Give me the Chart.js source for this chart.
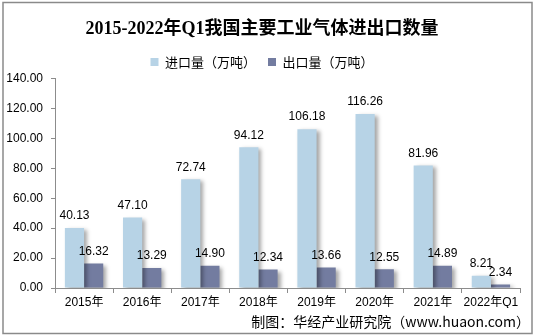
<!DOCTYPE html>
<html>
<head>
<meta charset="utf-8">
<script src="https://cdn.jsdelivr.net/npm/chart.js@4.4.1/dist/chart.umd.min.js"></script>
<style>
  html, body { margin: 0; padding: 0; background: #fff; }
  #wrap { width: 535px; height: 336px; position: relative; }
</style>
</head>
<body>
<div id="wrap"><canvas id="chart"></canvas></div>
<script>
const categories = ["2015年", "2016年", "2017年", "2018年", "2019年", "2020年", "2021年", "2022年Q1"];
const importValues = [40.13, 47.10, 72.74, 94.12, 106.18, 116.26, 81.96, 8.21];
const exportValues = [16.32, 13.29, 14.90, 12.34, 13.66, 12.55, 14.89, 2.34];
const seriesNames = ["进口量（万吨）", "出口量（万吨）"];
const yMax = 140;
const yStep = 20;

const FONT = "'Liberation Sans', Arial, 'Noto Sans CJK SC', sans-serif";
const AXIS_COLOR = "#8c8c8c";

// bar shadow like the office chart
const shadowPlugin = {
    id: "shadow",
    beforeDatasetsDraw(chart) {
        const ctx = chart.ctx;
        ctx.save();
        ctx.shadowColor = "rgba(0,0,0,0.35)";
        ctx.shadowBlur = 4;
        ctx.shadowOffsetX = 3;
        ctx.shadowOffsetY = 2;
    },
    afterDatasetsDraw(chart) {
        chart.ctx.restore();
    }
};

// value labels above each bar
const labelPlugin = {
    id: "valueLabels",
    afterDatasetsDraw(chart) {
        const ctx = chart.ctx;
        ctx.save();
        ctx.font = "12px " + FONT;
        ctx.fillStyle = "#000";
        ctx.textAlign = "center";
        ctx.textBaseline = "bottom";
        chart.data.datasets.forEach((ds, di) => {
            chart.getDatasetMeta(di).data.forEach((bar, i) => {
                ctx.fillText(ds.data[i].toFixed(2), bar.x, bar.y - 6);
            });
        });
        ctx.restore();
    }
};

// frame and source note
const framePlugin = {
    id: "frame",
    afterDraw(chart) {
        const ctx = chart.ctx;
        ctx.save();
        ctx.strokeStyle = "#8a8a8a";
        ctx.lineWidth = 1.5;
        ctx.strokeRect(3, 2.5, 529, 331);
        ctx.font = "14px 'Noto Sans CJK SC', sans-serif";
        ctx.fillStyle = "#000";
        ctx.textAlign = "right";
        ctx.textBaseline = "middle";
        ctx.fillText("制图：华经产业研究院（www.huaon.com）", 530, 322);
        ctx.restore();
    }
};

new Chart(document.getElementById("chart"), {
    type: "bar",
    data: {
        labels: categories,
        datasets: [
            { label: seriesNames[0], data: importValues, backgroundColor: "#b7d3e6", borderWidth: 0 },
            { label: seriesNames[1], data: exportValues, backgroundColor: "#737ca0", borderWidth: 0 }
        ]
    },
    options: {
        responsive: true,
        maintainAspectRatio: false,
        animation: false,
        layout: { padding: { left: 4, right: 15, top: 0, bottom: 28 } },
        datasets: { bar: { categoryPercentage: 0.66, barPercentage: 1 } },
        plugins: {
            title: {
                display: true,
                text: "2015-2022年Q1我国主要工业气体进出口数量",
                color: "#000",
                font: { family: "'Liberation Serif', 'Noto Sans CJK SC', serif", size: 18, weight: "bold" },
                padding: { top: 19, bottom: 3 }
            },
            legend: {
                display: true,
                labels: {
                    color: "#000",
                    boxWidth: 8,
                    boxHeight: 8,
                    padding: 12,
                    font: { family: "'Noto Sans CJK SC', sans-serif", size: 13 }
                }
            },
            tooltip: { enabled: false }
        },
        scales: {
            x: {
                grid: { display: true, drawOnChartArea: false, drawTicks: true, tickLength: 5, color: AXIS_COLOR, offset: true },
                border: { display: true, color: AXIS_COLOR },
                ticks: { color: "#000", padding: 2, maxRotation: 0, autoSkip: false, font: { family: FONT, size: 12 } },
                afterFit(scale) { scale.height = 20; }
            },
            y: {
                min: 0,
                max: yMax,
                grid: { display: true, drawOnChartArea: false, drawTicks: true, tickLength: 4, color: AXIS_COLOR },
                border: { display: true, color: AXIS_COLOR },
                ticks: {
                    stepSize: yStep,
                    color: "#000",
                    padding: 8,
                    font: { family: FONT, size: 12 },
                    callback: v => v.toFixed(2)
                },
                afterFit(scale) { scale.width = 51; }
            }
        }
    },
    plugins: [shadowPlugin, labelPlugin, framePlugin]
});
</script>
</body>
</html>
